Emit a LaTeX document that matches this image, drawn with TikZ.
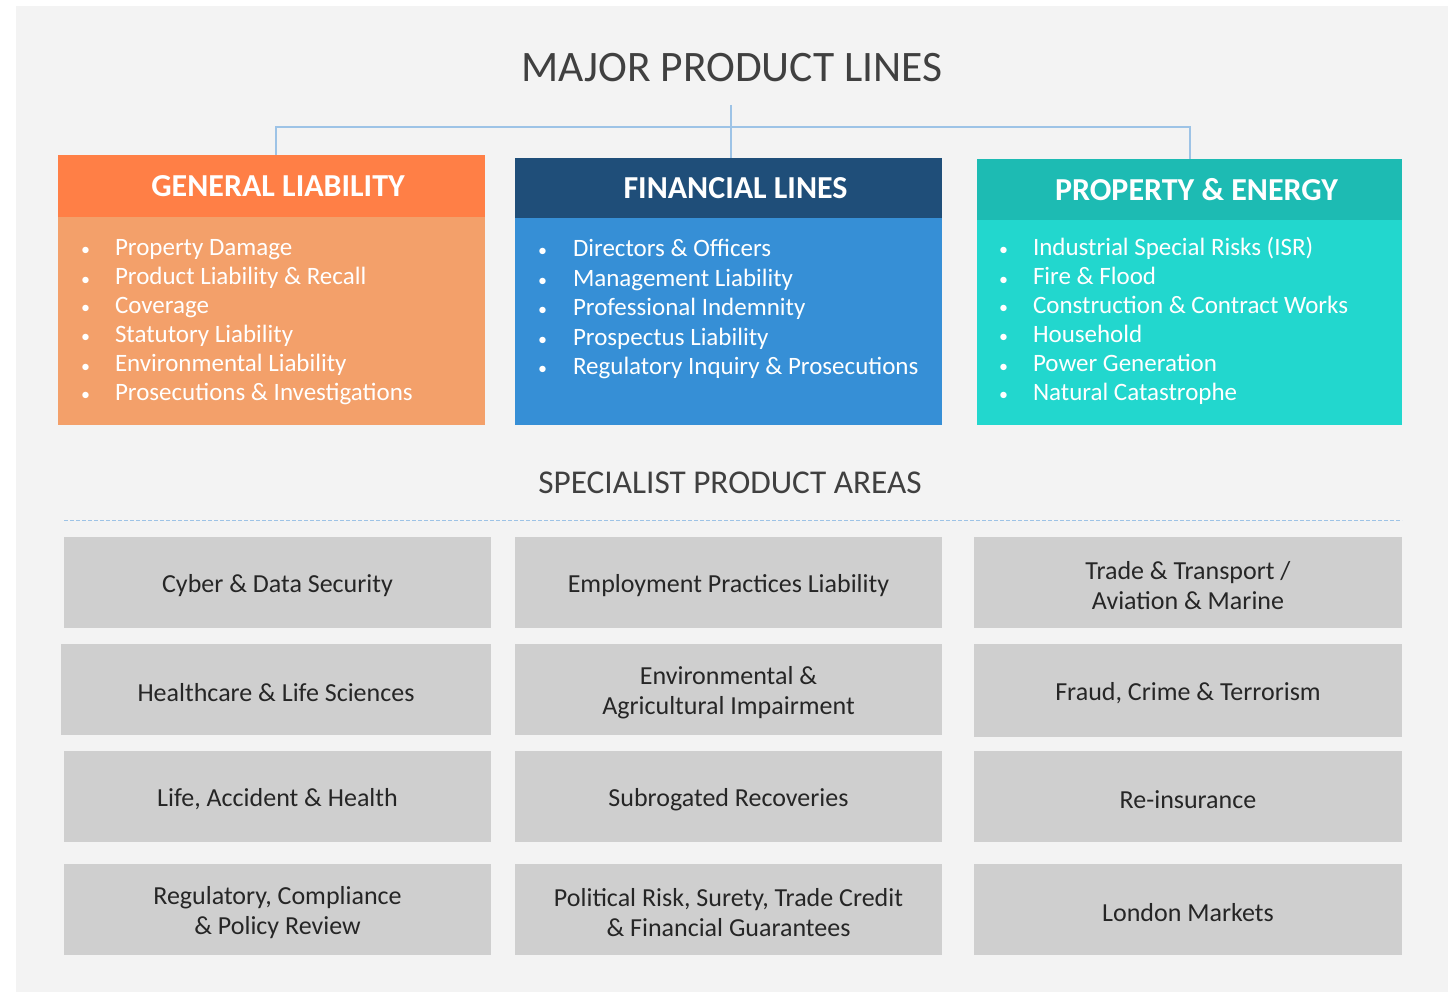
\documentclass[tikz,border=0pt]{standalone}
\usepackage{fontspec}
\setmainfont{Carlito}
\usetikzlibrary{calc}
\definecolor{bgc}{HTML}{F3F3F3}
\definecolor{titlec}{HTML}{404040}
\definecolor{connc}{HTML}{9DC3E6}
\definecolor{glh}{HTML}{FF7F46}
\definecolor{glb}{HTML}{F3A06A}
\definecolor{flh}{HTML}{1F4E79}
\definecolor{flb}{HTML}{368FD6}
\definecolor{peh}{HTML}{1DBBB3}
\definecolor{peb}{HTML}{22D7CE}
\definecolor{cellc}{HTML}{CFCFCF}
\definecolor{cellt}{HTML}{262626}
\newcommand{\bul}{\scalebox{0.72}{•}}
\begin{document}
\begin{tikzpicture}[x=1pt,y=-1pt,
  blk/.style={inner sep=0pt, outer sep=0pt},
  hdr/.style={blk, text=white, font=\fontsize{32}{36}\selectfont\bfseries},
  body/.style={blk},
  list/.style={blk, anchor=base west, text=white, font=\fontsize{25}{29}\selectfont},
  cell/.style={blk, fill=cellc, minimum height=91pt},
  celltxt/.style={blk, text=cellt, align=center, font=\fontsize{26}{30}\selectfont, yshift=-3pt},
  heading/.style={blk, anchor=base, text=titlec},
  conn/.style={draw=connc, line width=2.5pt},
  sep/.style={draw=connc, line width=1pt, dash pattern=on 4pt off 2pt}
]
\useasboundingbox (0,0) rectangle (1448,992);
\fill[bgc] (16,6) rectangle (1448,992);

% titles
\node[heading, font=\fontsize{43.5}{50}\selectfont] (title) at (732,82) {MAJOR PRODUCT LINES};
\node[heading, font=\fontsize{33.3}{38}\selectfont] (spec) at (730,493) {SPECIALIST PRODUCT AREAS};

% major product line boxes
\node[hdr, fill=glh, minimum width=427pt, minimum height=62pt] (glhead) at (271.5,186) {\hspace*{13pt}GENERAL LIABILITY};
\node[body, fill=glb, minimum width=427pt, minimum height=208pt] (glbody) at (271.5,321) {};
\node[hdr, fill=flh, minimum width=427pt, minimum height=60pt] (flhead) at (728.5,188) {\hspace*{14pt}FINANCIAL LINES};
\node[body, fill=flb, minimum width=427pt, minimum height=207pt] (flbody) at (728.5,321.5) {};
\node[hdr, fill=peh, minimum width=425pt, minimum height=61pt] (pehead) at (1189.5,189.5) {\hspace*{14pt}PROPERTY \& ENERGY};
\node[body, fill=peb, minimum width=425pt, minimum height=205pt] (pebody) at (1189.5,322.5) {};

% connectors
\coordinate (top) at (731,105);
\coordinate (gltap) at (276,127);
\coordinate (petap) at (1190,127);
\draw[conn] (top) -- (top |- flhead.north);
\draw[conn] (gltap |- glhead.north) -- (gltap) -- (petap) -- (petap |- pehead.north);

% bullet lists
\node[list] (gllist) at (81,256) {\begin{tabular}[t]{@{}p{34pt}@{}l@{}}
\bul & Property Damage\\
\bul & Product Liability \& Recall\\
\bul & Coverage\\
\bul & Statutory Liability\\
\bul & Environmental Liability\\
\bul & Prosecutions \& Investigations
\end{tabular}};
\node[list, font=\fontsize{25}{29.5}\selectfont] (fllist) at (538,257) {\begin{tabular}[t]{@{}p{35pt}@{}l@{}}
\bul & Directors \& Officers\\
\bul & Management Liability\\
\bul & Professional Indemnity\\
\bul & Prospectus Liability\\
\bul & Regulatory Inquiry \& Prosecutions
\end{tabular}};
\node[list] (pelist) at (999,256) {\begin{tabular}[t]{@{}p{34pt}@{}l@{}}
\bul & Industrial Special Risks (ISR)\\
\bul & Fire \& Flood\\
\bul & Construction \& Contract Works\\
\bul & Household\\
\bul & Power Generation\\
\bul & Natural Catastrophe
\end{tabular}};

% separator
\coordinate (sepl) at (64,520);
\coordinate (sepr) at (1402,520);
\draw[sep] (sepl) -- (sepr);

% specialist grid
\node[cell, minimum width=427pt, label={[celltxt]center:{Cyber \& Data Security}}] (c11) at (277.5,582.5) {};
\node[cell, minimum width=427pt, label={[celltxt]center:{Employment Practices Liability}}] (c12) at (728.5,582.5) {};
\node[cell, minimum width=428pt, label={[celltxt]center:{Trade \& Transport /\\Aviation \& Marine}}] (c13) at (1188,582.5) {};

\node[cell, minimum width=430pt, label={[celltxt]center:{Healthcare \& Life Sciences}}] (c21) at (276,689.5) {};
\node[cell, minimum width=427pt, label={[celltxt]center:{Environmental \&\\Agricultural Impairment}}] (c22) at (728.5,689.5) {};
\node[cell, minimum width=428pt, minimum height=93pt, label={[celltxt]center:{Fraud, Crime \& Terrorism}}] (c23) at (1188,690.5) {};

\node[cell, minimum width=427pt, label={[celltxt]center:{Life, Accident \& Health}}] (c31) at (277.5,796.5) {};
\node[cell, minimum width=427pt, label={[celltxt]center:{Subrogated Recoveries}}] (c32) at (728.5,796.5) {};
\node[cell, minimum width=428pt, label={[celltxt]center:{Re-insurance}}] (c33) at (1188,796.5) {};

\node[cell, minimum width=427pt, label={[celltxt]center:{Regulatory, Compliance\\\& Policy Review}}] (c41) at (277.5,909.5) {};
\node[cell, minimum width=427pt, label={[celltxt]center:{Political Risk, Surety, Trade Credit\\\& Financial Guarantees}}] (c42) at (728.5,909.5) {};
\node[cell, minimum width=428pt, label={[celltxt]center:{London Markets}}] (c43) at (1188,909.5) {};
\end{tikzpicture}
\end{document}
